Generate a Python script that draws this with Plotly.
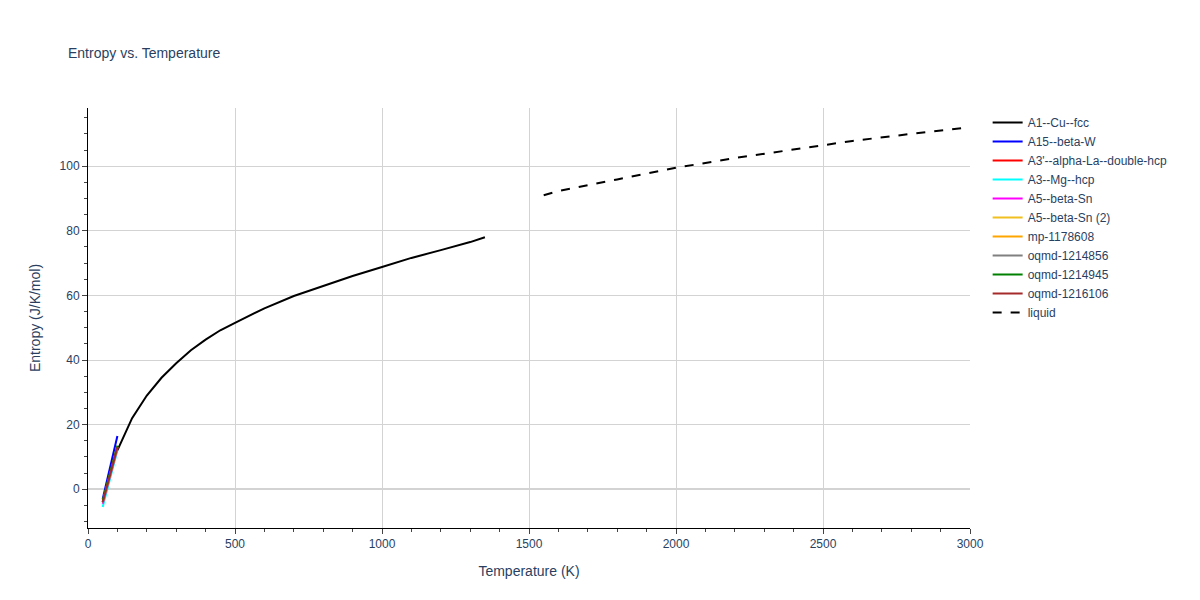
import plotly.graph_objects as go

fcc_T = [100, 150, 200, 250, 300, 350, 400, 450, 500, 600, 700, 800, 900, 1000, 1100, 1200, 1300, 1350]
fcc_S = [12, 22, 29, 34.5, 39, 43, 46.3, 49.2, 51.5, 56, 59.8, 63, 66, 68.8, 71.6, 74, 76.5, 78]
liq_T = [1550, 1600, 1800, 2000, 2200, 2400, 2600, 2800, 3000]
liq_S = [91, 92.3, 95.9, 99.5, 102.5, 105.2, 107.8, 110, 112]
short_T = [50, 100]
short = {
    "A15--beta-W": ("blue", [-3, 16.5]),
    "A3'--alpha-La--double-hcp": ("red", [-4, 13]),
    "A3--Mg--hcp": ("cyan", [-5.5, 12]),
    "A5--beta-Sn": ("magenta", [-4.5, 12.5]),
    "A5--beta-Sn (2)": ("#f0c020", [-4, 13]),
    "mp-1178608": ("orange", [-4, 13]),
    "oqmd-1214856": ("gray", [-4, 13]),
    "oqmd-1214945": ("green", [-3.5, 13.5]),
    "oqmd-1216106": ("brown", [-4, 13]),
}

fig = go.Figure()
fig.add_trace(go.Scatter(x=fcc_T, y=fcc_S, mode="lines", name="A1--Cu--fcc", line=dict(color="black", width=2)))
for n, (c, v) in short.items():
    fig.add_trace(go.Scatter(x=short_T, y=v, mode="lines", name=n, line=dict(color=c, width=2)))
fig.add_trace(go.Scatter(x=liq_T, y=liq_S, mode="lines", name="liquid", line=dict(color="black", width=2, dash="dash")))

ax = dict(showline=True, linecolor="black", gridcolor="lightgray", ticks="outside",
          minor=dict(ticks="outside", showgrid=False), zeroline=True, zerolinecolor="lightgray", zerolinewidth=2)
fig.update_layout(
    width=1200, height=600, template="plotly_white",
    font=dict(family="Liberation Sans, Arial, sans-serif"),
    title=dict(text="Entropy vs. Temperature", x=0.05, font=dict(size=14)),
    xaxis=dict(title="Temperature (K)", range=[0, 3000], **ax),
    yaxis=dict(title="Entropy (J/K/mol)", range=[-12, 118], **ax),
    margin=dict(l=80, r=238, t=100, b=80, autoexpand=False),
)
fig.write_html("out.html")
